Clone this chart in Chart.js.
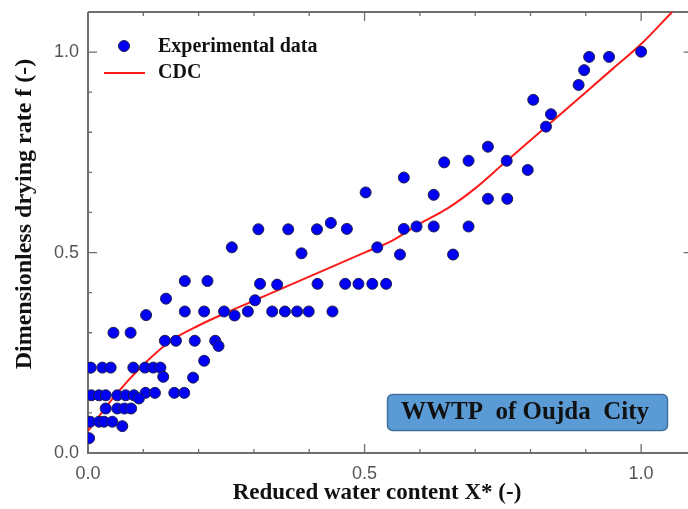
<!DOCTYPE html>
<html>
<head>
<meta charset="utf-8">
<script src="https://cdn.jsdelivr.net/npm/chart.js@4.4.0/dist/chart.umd.min.js"></script>
<style>
    html, body { margin: 0; padding: 0; background: #fff; }
    #wrap { width: 688px; height: 509px; }
</style>
</head>
<body>
<div id="wrap"><canvas id="chart" width="688" height="509"></canvas></div>
<script>
// experimental points
const expX = [
    0.005, 0.026, 0.041, 0.082, 0.103, 0.118, 0.131, 0.136,
    0.006, 0.020, 0.032, 0.053, 0.068, 0.083, 0.104, 0.121, 0.156, 0.174, 0.092,
    0.032, 0.053, 0.066, 0.078,
    0.004, 0.020, 0.029, 0.044, 0.062, 0.002,
    0.046, 0.077, 0.139, 0.159, 0.193, 0.230, 0.236, 0.210, 0.190,
    0.175, 0.216, 0.311, 0.342, 0.415, 0.141, 0.105,
    0.175, 0.210, 0.246, 0.289, 0.333, 0.356, 0.378, 0.399, 0.442, 0.265, 0.302,
    0.260, 0.386, 0.308, 0.362, 0.414, 0.439, 0.468, 0.502, 0.523, 0.564,
    0.571, 0.594, 0.625, 0.688, 0.660, 0.465, 0.489, 0.514, 0.539,
    0.571, 0.625, 0.644, 0.688, 0.723, 0.757, 0.795, 0.723, 0.758,
    0.805, 0.828, 0.837, 0.887, 0.897, 0.906, 0.942, 1.000
];
const expF = [
    0.213, 0.213, 0.213, 0.213, 0.213, 0.213, 0.213, 0.190,
    0.144, 0.144, 0.144, 0.144, 0.144, 0.144, 0.150, 0.150, 0.150, 0.150, 0.136,
    0.111, 0.111, 0.111, 0.111,
    0.078, 0.078, 0.078, 0.078, 0.067, 0.037,
    0.300, 0.300, 0.280, 0.280, 0.280, 0.280, 0.267, 0.230, 0.188,
    0.429, 0.429, 0.422, 0.420, 0.422, 0.385, 0.344,
    0.353, 0.353, 0.353, 0.353, 0.353, 0.353, 0.353, 0.353, 0.353, 0.343, 0.381,
    0.513, 0.498, 0.558, 0.558, 0.558, 0.574, 0.559, 0.650, 0.513, 0.495,
    0.559, 0.565, 0.565, 0.565, 0.495, 0.422, 0.422, 0.422, 0.422,
    0.687, 0.644, 0.725, 0.729, 0.764, 0.729, 0.706, 0.634, 0.634,
    0.881, 0.814, 0.845, 0.918, 0.955, 0.988, 0.988, 1.001
];

// CDC curve
const cdcX = [0, 0.05, 0.1, 0.15, 0.2, 0.25, 0.3, 0.35, 0.4, 0.45, 0.5, 0.55, 0.6, 0.65, 0.7, 0.75, 0.8, 0.85, 0.9, 0.95, 1.0, 1.056];
const cdcF = [0.055, 0.145, 0.22, 0.28, 0.318, 0.35, 0.38, 0.41, 0.44, 0.47, 0.50, 0.53, 0.572, 0.61, 0.66, 0.72, 0.78, 0.84, 0.90, 0.96, 1.02, 1.10];

// tick positions (every 0.1, labelled every 0.5)
const xTicks = [0, 0.1, 0.2, 0.3, 0.4, 0.5, 0.6, 0.7, 0.8, 0.9, 1.0];
const yTicks = [0, 0.1, 0.2, 0.3, 0.4, 0.5, 0.6, 0.7, 0.8, 0.9, 1.0];
const xTickLabels = ['0.0', '0.5', '1.0'];
const yTickLabels = ['0.0', '0.5', '1.0'];

const seriesNames = ['Experimental data', 'CDC'];
const xTitle = 'Reduced water content X* (-)';
const yTitle = 'Dimensionless drying rate f (-)';
const boxText = 'WWTP  of Oujda  City';

const axisColor = '#6e6e6e';

function toPoints(xs, ys) {
    return xs.map((x, i) => ({ x: x, y: ys[i] }));
}

function isMajor(v) {
    return Math.abs(v * 2 - Math.round(v * 2)) < 1e-6;
}

function labelFor(list, value) {
    const s = value.toFixed(1);
    return isMajor(value) && list.includes(s) ? s : '';
}

function fixedTicks(values) {
    return s => { s.ticks = values.map(v => ({ value: v })); };
}

function fitBox(prop, size) {
    return s => {
        s[prop] = size;
        s.paddingTop = 0;
        s.paddingBottom = 0;
        s.paddingLeft = 0;
        s.paddingRight = 0;
    };
}

// frame + inward ticks, under the points
const framePlugin = {
    id: 'frame',
    beforeDatasetsDraw(chart) {
        const ctx = chart.ctx;
        const a = chart.chartArea;
        const xs = chart.scales.x;
        const ys = chart.scales.y;
        // right axis sits just past the canvas edge
        const rightX = xs.getPixelForValue(1.093);
        ctx.save();
        ctx.strokeStyle = axisColor;
        ctx.lineWidth = 2;
        ctx.beginPath();
        ctx.moveTo(a.left, a.top);
        ctx.lineTo(a.left, a.bottom);
        ctx.lineTo(chart.width, a.bottom);
        ctx.moveTo(a.left, a.top);
        ctx.lineTo(chart.width, a.top);
        ctx.stroke();

        ctx.lineWidth = 1.3;
        ctx.beginPath();
        xs.ticks.forEach(t => {
            if (t.value === 0) return;
            const px = xs.getPixelForValue(t.value);
            const len = isMajor(t.value) ? 9 : 4;
            ctx.moveTo(px, a.bottom);
            ctx.lineTo(px, a.bottom - len);
            ctx.moveTo(px, a.top);
            ctx.lineTo(px, a.top + len);
        });
        ys.ticks.forEach(t => {
            if (t.value === 0) return;
            const py = ys.getPixelForValue(t.value);
            const len = isMajor(t.value) ? 9 : 4;
            ctx.moveTo(a.left, py);
            ctx.lineTo(a.left + len, py);
            ctx.moveTo(rightX, py);
            ctx.lineTo(rightX - len, py);
        });
        ctx.stroke();
        ctx.restore();
    },
    afterDraw(chart) {
        const ctx = chart.ctx;
        ctx.save();

        // axis titles
        ctx.fillStyle = '#111';
        ctx.textAlign = 'center';
        ctx.textBaseline = 'middle';
        ctx.font = 'bold 23px "Liberation Serif", "Times New Roman", serif';
        ctx.fillText(xTitle, 377, 493);
        ctx.save();
        ctx.translate(25, 214);
        ctx.rotate(-Math.PI / 2);
        ctx.font = 'bold 24px "Liberation Serif", "Times New Roman", serif';
        ctx.fillText(yTitle, 0, 0);
        ctx.restore();

        // legend
        ctx.textAlign = 'left';
        ctx.font = 'bold 20px "Liberation Serif", "Times New Roman", serif';
        ctx.fillStyle = '#0000f5';
        ctx.strokeStyle = '#20204a';
        ctx.lineWidth = 1;
        ctx.beginPath();
        ctx.arc(124, 46, 5.5, 0, Math.PI * 2);
        ctx.fill();
        ctx.stroke();
        ctx.fillStyle = '#111';
        ctx.fillText(seriesNames[0], 158, 47);
        ctx.strokeStyle = '#ff1a1a';
        ctx.lineWidth = 2;
        ctx.beginPath();
        ctx.moveTo(104, 73);
        ctx.lineTo(145, 73);
        ctx.stroke();
        ctx.fillText(seriesNames[1], 158, 73);

        // label box
        ctx.beginPath();
        ctx.roundRect(387.5, 394.5, 280, 36, 5);
        ctx.fillStyle = '#5b9bd5';
        ctx.fill();
        ctx.strokeStyle = '#41719c';
        ctx.lineWidth = 1.5;
        ctx.stroke();
        ctx.fillStyle = '#111';
        ctx.textAlign = 'center';
        ctx.font = 'bold 25px "Liberation Serif", "Times New Roman", serif';
        ctx.fillText(boxText, 525, 413);
        ctx.restore();
    }
};

new Chart('chart', {
    type: 'scatter',
    data: {
        datasets: [
            {
                label: seriesNames[0],
                data: toPoints(expX, expF),
                pointRadius: 5.5,
                pointHoverRadius: 5.5,
                backgroundColor: '#0000f5',
                borderColor: '#20204a',
                borderWidth: 1
            },
            {
                label: seriesNames[1],
                data: toPoints(cdcX, cdcF),
                showLine: true,
                pointRadius: 0,
                borderColor: '#ff1a1a',
                borderWidth: 2,
                cubicInterpolationMode: 'monotone'
            }
        ]
    },
    options: {
        responsive: false,
        animation: false,
        devicePixelRatio: 1,
        layout: { padding: { top: 12, right: 0, left: 0, bottom: 0 } },
        plugins: {
            legend: { display: false },
            tooltip: { enabled: false }
        },
        scales: {
            x: {
                type: 'linear',
                min: 0,
                max: 1.073,
                grid: { display: false, drawTicks: false },
                border: { display: false },
                afterBuildTicks: fixedTicks(xTicks),
                ticks: {
                    autoSkip: false,
                    maxRotation: 0,
                    padding: 10,
                    color: '#555',
                    font: { family: '"Liberation Sans", Arial, sans-serif', size: 18 },
                    callback: v => labelFor(xTickLabels, v)
                },
                afterFit: fitBox('height', 56)
            },
            y: {
                type: 'linear',
                min: 0,
                max: 1.1,
                grid: { display: false, drawTicks: false },
                border: { display: false },
                afterBuildTicks: fixedTicks(yTicks),
                ticks: {
                    autoSkip: false,
                    padding: 9,
                    color: '#555',
                    font: { family: '"Liberation Sans", Arial, sans-serif', size: 18 },
                    callback: v => labelFor(yTickLabels, v)
                },
                afterFit: fitBox('width', 88)
            }
        }
    },
    plugins: [framePlugin]
});
</script>
</body>
</html>
